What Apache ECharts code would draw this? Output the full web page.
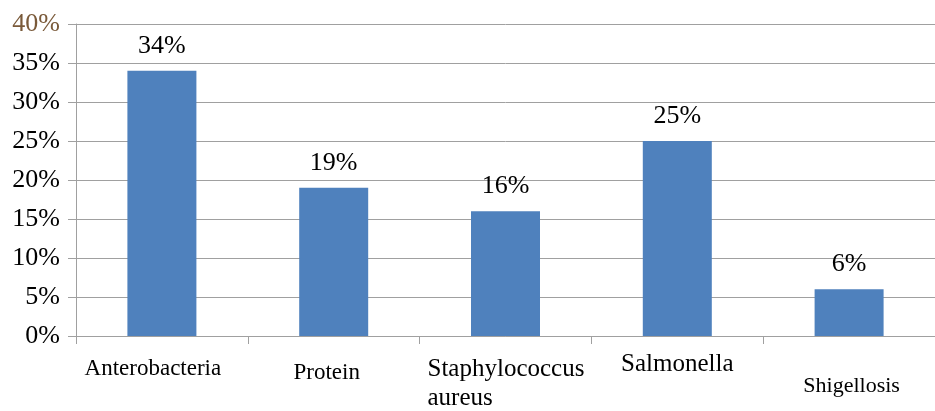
<!DOCTYPE html>
<html>
<head>
<meta charset="utf-8">
<style>html,body{margin:0;padding:0;background:#fff}#c{width:935px;height:411px}</style>
<script src="https://cdn.jsdelivr.net/npm/echarts@6/dist/echarts.min.js"></script>
</head>
<body>
<div id="c"></div>
<script>
var categories = ['Anterobacteria', 'Protein', 'Staphylococcus aureus', 'Salmonella', 'Shigellosis'];
var values = [34, 19, 16, 25, 6];
var yTicks = { min: 0, max: 40, interval: 5 };
var labelKeys = ['ant', 'pro', 'sta', 'sal', 'shi'];

var serif = "'Liberation Serif', 'Times New Roman', serif";
var chart = echarts.init(document.getElementById('c'), null, { renderer: 'canvas' });
chart.setOption({
  animation: false,
  grid: { left: 76, top: 24, width: 865, height: 316, containLabel: false },
  xAxis: {
    type: 'category',
    data: categories,
    axisLine: { lineStyle: { color: '#a0a0a0', width: 1 } },
    axisTick: { show: true, alignWithLabel: false, length: 8, lineStyle: { color: '#a0a0a0' } },
    axisLabel: {
      interval: 0,
      margin: 19,
      color: '#000',
      fontFamily: serif,
      formatter: function (v, i) {
        var k = labelKeys[i];
        if (k === 'sta') {
          var parts = v.split(' ');
          return '{sta|' + parts[0] + '}\n{sta|' + parts[1] + '}';
        }
        return '{' + k + '|' + v + '}';
      },
      rich: {
        ant: { fontSize: 23, lineHeight: 28, padding: [0, 18, 0, 0], fontFamily: serif, color: '#000' },
        pro: { fontSize: 23, lineHeight: 36, padding: [0, 14, 0, 0], fontFamily: serif, color: '#000' },
        sta: { fontSize: 25, lineHeight: 29, width: 156, align: 'left', fontFamily: serif, color: '#000' },
        sal: { fontSize: 25, lineHeight: 18, fontFamily: serif, color: '#000' },
        shi: { fontSize: 22, lineHeight: 62, padding: [0, 0, 0, 5], fontFamily: serif, color: '#000' }
      }
    }
  },
  yAxis: {
    type: 'value',
    min: yTicks.min,
    max: yTicks.max,
    interval: yTicks.interval,
    axisLine: { show: true, lineStyle: { color: '#a0a0a0', width: 1 } },
    axisTick: { show: true, length: 8, lineStyle: { color: '#a0a0a0' } },
    splitLine: { show: true, lineStyle: { color: '#a0a0a0', width: 1 } },
    axisLabel: {
      margin: 16,
      fontSize: 26,
      fontFamily: serif,
      color: '#000',
      formatter: function (v) {
        return v === 40 ? '{top|' + v + '%}' : v + '%';
      },
      rich: { top: { fontSize: 26, fontFamily: serif, color: '#7a5a3a' } }
    }
  },
  series: [{
    type: 'bar',
    data: values,
    barWidth: 69,
    itemStyle: { color: '#4f81bd' },
    label: {
      show: true,
      position: 'top',
      distance: 12,
      fontSize: 26,
      fontFamily: serif,
      color: '#000',
      formatter: '{c}%'
    }
  }]
});
</script>
</body>
</html>
